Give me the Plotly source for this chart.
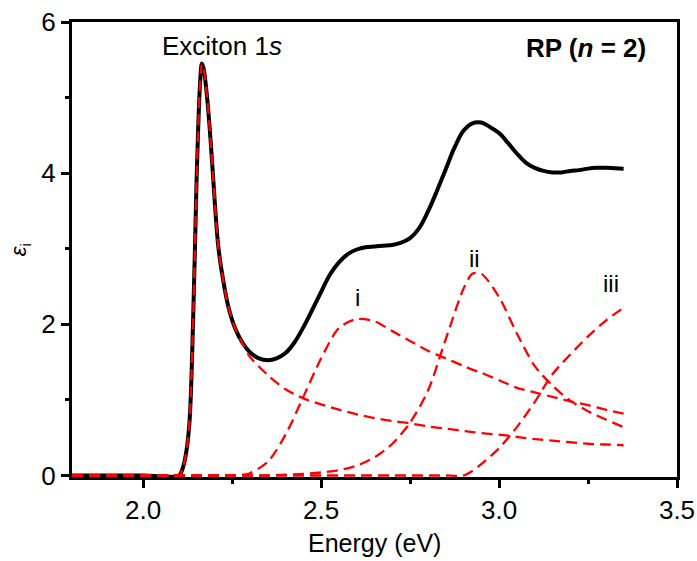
import plotly.graph_objects as go

# Photon energy grids (eV): fitted components and measured total
energy_fit = [1.80, 2.00, 2.10, 2.11, 2.12, 2.13, 2.14, 2.15, 2.155, 2.16, 2.165,
              2.17, 2.18, 2.19, 2.20, 2.21, 2.22, 2.24, 2.26, 2.28, 2.30, 2.35,
              2.40, 2.45, 2.50, 2.55, 2.60, 2.65, 2.70, 2.75, 2.80, 2.85, 2.90,
              2.925, 2.95, 3.00, 3.05, 3.10, 3.15, 3.20, 3.25, 3.30, 3.35]

energy_total = [1.80, 2.00, 2.10, 2.11, 2.12, 2.13, 2.14, 2.15, 2.155, 2.16, 2.165,
                2.17, 2.18, 2.19, 2.20, 2.21, 2.22, 2.24, 2.26, 2.28, 2.30, 2.325,
                2.35, 2.375, 2.40, 2.425, 2.45, 2.475, 2.50, 2.525, 2.55, 2.575,
                2.60, 2.625, 2.65, 2.675, 2.70, 2.725, 2.75, 2.775, 2.80, 2.825,
                2.85, 2.875, 2.90, 2.925, 2.95, 2.975, 3.00, 3.025, 3.05, 3.075,
                3.10, 3.125, 3.15, 3.175, 3.20, 3.225, 3.25, 3.275, 3.30, 3.325,
                3.35]

# Imaginary part of the dielectric function, measured
eps_total = [0.0, 0.0, 0.0, 0.08, 0.28, 0.70, 2.00, 3.90, 4.65, 5.20, 5.45,
             5.38, 4.98, 4.40, 3.70, 3.08, 2.72, 2.22, 1.93, 1.75, 1.63, 1.55,
             1.525, 1.55, 1.62, 1.76, 1.96, 2.19, 2.43, 2.66, 2.82, 2.93,
             2.99, 3.02, 3.03, 3.04, 3.05, 3.08, 3.14, 3.27, 3.49, 3.76,
             4.05, 4.34, 4.56, 4.66, 4.67, 4.61, 4.53, 4.40, 4.26, 4.14,
             4.07, 4.03, 4.01, 4.01, 4.03, 4.04, 4.06, 4.07, 4.07, 4.065,
             4.06]

# Fitted components
eps_exciton = [0.0, 0.0, 0.0, 0.08, 0.28, 0.70, 2.00, 3.90, 4.65, 5.20, 5.45,
               5.38, 4.98, 4.40, 3.70, 3.08, 2.72, 2.22, 1.93, 1.74, 1.57, 1.33,
               1.14, 1.02, 0.94, 0.87, 0.81, 0.76, 0.72, 0.69, 0.65, 0.62, 0.59,
               0.575, 0.56, 0.54, 0.51, 0.48, 0.46, 0.44, 0.42, 0.41, 0.40]

eps_i = [0.0, 0.0, 0.0, 0.0, 0.0, 0.0, 0.0, 0.0, 0.0, 0.0, 0.0,
         0.0, 0.0, 0.0, 0.0, 0.0, 0.0, 0.0, 0.0, 0.01, 0.03, 0.18,
         0.54, 1.04, 1.55, 1.95, 2.07, 2.04, 1.91, 1.78, 1.65, 1.55, 1.45,
         1.40, 1.36, 1.26, 1.16, 1.10, 1.04, 0.98, 0.93, 0.87, 0.82]

eps_ii = [0.0, 0.0, 0.0, 0.0, 0.0, 0.0, 0.0, 0.0, 0.0, 0.0, 0.0,
          0.0, 0.0, 0.0, 0.0, 0.0, 0.0, 0.0, 0.0, 0.0, 0.0, 0.0,
          0.01, 0.02, 0.04, 0.07, 0.13, 0.24, 0.42, 0.70, 1.12, 1.80, 2.47,
          2.67, 2.67, 2.36, 1.88, 1.45, 1.19, 0.99, 0.85, 0.74, 0.64]

eps_iii = [0.0, 0.0, 0.0, 0.0, 0.0, 0.0, 0.0, 0.0, 0.0, 0.0, 0.0,
           0.0, 0.0, 0.0, 0.0, 0.0, 0.0, 0.0, 0.0, 0.0, 0.0, 0.0,
           0.0, 0.0, 0.0, 0.0, 0.0, 0.0, 0.0, 0.0, 0.0, 0.0, 0.0,
           0.06, 0.15, 0.36, 0.64, 0.97, 1.34, 1.60, 1.84, 2.05, 2.22]

x_ticks = [2.0, 2.5, 3.0, 3.5]
x_tick_labels = ["2.0", "2.5", "3.0", "3.5"]
y_ticks = [0, 2, 4, 6]
y_tick_labels = ["0", "2", "4", "6"]

FONT = "Liberation Sans, Arial, sans-serif"

fig = go.Figure()

fig.add_trace(go.Scatter(
    x=energy_total, y=eps_total, mode="lines",
    line=dict(color="black", width=4, shape="spline", smoothing=1.0),
    showlegend=False, hoverinfo="skip"))

for comp in (eps_exciton, eps_i, eps_ii, eps_iii):
    fig.add_trace(go.Scatter(
        x=energy_fit, y=comp, mode="lines",
        line=dict(color="#ff0000", width=2.3, dash="11px,6px",
                  shape="spline", smoothing=0.8),
        showlegend=False, hoverinfo="skip"))

axis_common = dict(
    showline=True, linewidth=3, linecolor="black", mirror=True,
    ticks="outside", ticklen=8, tickwidth=3, tickcolor="black",
    showgrid=False, zeroline=False, automargin=False,
    tickfont=dict(family=FONT, size=26, color="black"),
)

fig.update_xaxes(
    range=[1.8, 3.5], tickmode="array", tickvals=x_ticks, ticktext=x_tick_labels,
    minor=dict(tickvals=[2.25, 2.75, 3.25], ticks="outside", ticklen=4,
               tickwidth=3, tickcolor="black"),
    **axis_common)

fig.update_yaxes(
    range=[-0.02, 6], tickmode="array", tickvals=y_ticks, ticktext=y_tick_labels,
    minor=dict(tickvals=[1, 3, 5], ticks="outside", ticklen=4,
               tickwidth=3, tickcolor="black"),
    **axis_common)

annotations = [
    dict(x=2.221, y=5.68, text="Exciton 1<i>s</i>", font_size=26),
    dict(x=3.245, y=5.66, text="<b>RP (<i>n</i> = 2)</b>", font_size=26),
    dict(x=2.603, y=2.36, text="i", font_size=24),
    dict(x=2.932, y=2.87, text="ii", font_size=24),
    dict(x=3.314, y=2.54, text="iii", font_size=24),
]
for a in annotations:
    fig.add_annotation(x=a["x"], y=a["y"], xref="x", yref="y", text=a["text"],
                       showarrow=False,
                       font=dict(family=FONT, size=a["font_size"], color="black"))

# Axis titles
fig.add_annotation(x=0.5, y=-0.145, xref="paper", yref="paper",
                   text="Energy (eV)", showarrow=False, yanchor="middle",
                   font=dict(family=FONT, size=25, color="black"))
fig.add_annotation(x=-0.113, y=0.5, xref="paper", yref="paper",
                   text="<i>ε</i><sub>i</sub>", textangle=-90, showarrow=False,
                   font=dict(family=FONT, size=22, color="black"))

fig.update_layout(
    width=697, height=561,
    margin=dict(l=72, r=20, t=22, b=84),
    paper_bgcolor="white", plot_bgcolor="white",
)

fig.write_html("out.html")
